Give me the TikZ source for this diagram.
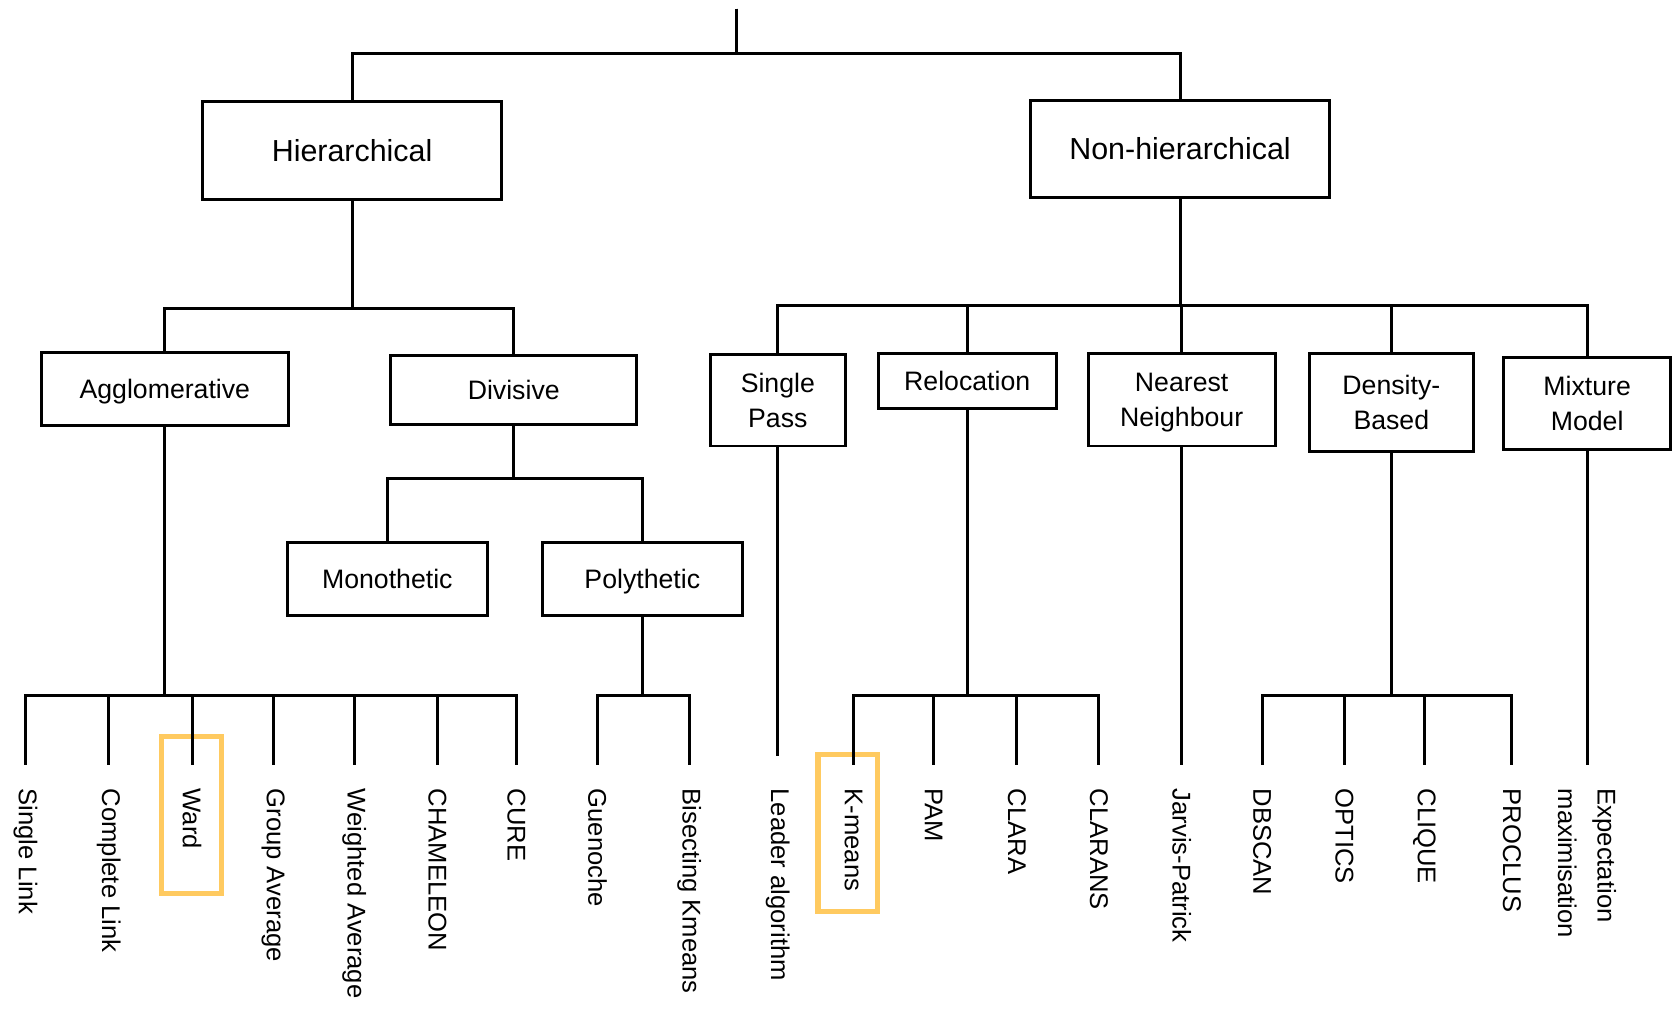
\documentclass[tikz,border=0pt]{standalone}
\usepackage{fontspec}
\setmainfont{Liberation Sans}
\usetikzlibrary{positioning}
\definecolor{hlOrange}{RGB}{255,202,96}
\tikzset{
  box/.style={draw, line width=2.8pt, align=center, inner sep=0pt, text depth=-3pt, font=\fontsize{25}{33}\selectfont},
  topbox/.style={box, minimum width=280pt, minimum height=92pt, font=\fontsize{28.5}{34}\selectfont},
  leaf/.style={rotate=-90, anchor=west, inner sep=0pt, align=left, font=\fontsize{24}{37}\selectfont},
  link/.style={line width=2.8pt},
  leafline/.style={link, shorten >=22pt},
  hlbox/.style={draw=hlOrange, line width=5pt, minimum width=56pt, minimum height=147pt}
}

\begin{document}
\begin{tikzpicture}[x=1pt,y=-1pt]
  \useasboundingbox (0,0) rectangle (1568,945);
  \coordinate (top) at (690,8);

  \node[topbox] (hier) at (330,141) {Hierarchical};
  \node[topbox, minimum height=91pt] (nonhier) at (1106,139.5) {Non-hierarchical};

  \node[box, minimum width=231pt, minimum height=69pt] (agg) at (154.5,364.5) {Agglomerative};
  \node[box, minimum width=231pt, minimum height=65pt] (div) at (481.5,365.5) {Divisive};
  \node[box, minimum width=188pt, minimum height=69pt] (mono) at (363,542.5) {Monothetic};
  \node[box, minimum width=188pt, minimum height=69pt] (poly) at (602,542.5) {Polythetic};

  \node[box, minimum width=126pt, minimum height=86pt] (spass) at (729,375) {Single\\Pass};
  \node[box, minimum width=167pt, minimum height=52pt] (reloc) at (906.5,357) {Relocation};
  \node[box, minimum width=175pt, minimum height=87pt] (nn) at (1107.5,374.5) {Nearest\\Neighbour};
  \node[box, minimum width=154pt, minimum height=92pt] (dens) at (1304,377) {Density-\\Based};
  \node[box, minimum width=157pt, minimum height=86pt] (mix) at (1487.5,378) {Mixture\\Model};

  \node[leaf] (slink) at (24,739) {Single Link};
  \node[leaf] (clink) at (102,739) {Complete Link};
  \node[leaf] (ward) at (180,739) {Ward};
  \node[leaf] (gavg) at (256,739) {Group Average};
  \node[leaf] (wavg) at (332,739) {Weighted Average};
  \node[leaf] (cham) at (410,739) {CHAMELEON};
  \node[leaf] (cure) at (484,739) {CURE};
  \node[leaf] (guen) at (560,739) {Guenoche};
  \node[leaf] (bisk) at (646,739) {Bisecting Kmeans};
  \node[leaf] (leader) at (729,739) {Leader algorithm};
  \node[leaf] (kmeans) at (800,739) {K-means};
  \node[leaf] (pam) at (875,739) {PAM};
  \node[leaf] (clara) at (953,739) {CLARA};
  \node[leaf] (clarans) at (1030,739) {CLARANS};
  \node[leaf] (jarvis) at (1107.5,739) {Jarvis-Patrick};
  \node[leaf] (dbscan) at (1183,739) {DBSCAN};
  \node[leaf] (optics) at (1260,739) {OPTICS};
  \node[leaf] (clique) at (1335,739) {CLIQUE};
  \node[leaf] (proclus) at (1417,739) {PROCLUS};
  \node[leaf] (em) at (1487.5,739) {Expectation\\maximisation};

  \node[hlbox] (wardhl) at (179.5,764) {};
  \node[hlbox] (kmeanshl) at (794.5,780.5) {};

  \draw[link] (top) -- ++(0,42) -| (hier.north);
  \draw[link] (top) -- ++(0,42) -| (nonhier.north);
  \draw[link] (hier.south) -- ++(0,101) -| (agg.north);
  \draw[link] (hier.south) -- ++(0,101) -| (div.north);
  \draw[link] (div.south) -- ++(0,49) -| (mono.north);
  \draw[link] (div.south) -- ++(0,49) -| (poly.north);

  \draw[leafline] (agg.south) -- ++(0,251) -| (slink.west);
  \draw[leafline] (agg.south) -- ++(0,251) -| (clink.west);
  \draw[leafline] (agg.south) -- ++(0,251) -| (ward.west);
  \draw[leafline] (agg.south) -- ++(0,251) -| (gavg.west);
  \draw[leafline] (agg.south) -- ++(0,251) -| (wavg.west);
  \draw[leafline] (agg.south) -- ++(0,251) -| (cham.west);
  \draw[leafline] (agg.south) -- ++(0,251) -| (cure.west);
  \draw[leafline] (poly.south) -- ++(0,73) -| (guen.west);
  \draw[leafline] (poly.south) -- ++(0,73) -| (bisk.west);

  \draw[link] (nonhier.south) -- ++(0,100) -| (spass.north);
  \draw[link] (nonhier.south) -- ++(0,100) -| (reloc.north);
  \draw[link] (nonhier.south) -- ++(0,100) -| (nn.north);
  \draw[link] (nonhier.south) -- ++(0,100) -| (dens.north);
  \draw[link] (nonhier.south) -- ++(0,100) -| (mix.north);

  \draw[leafline, shorten >=30pt] (spass.south) -- (leader.west);
  \draw[leafline] (reloc.south) -- ++(0,267) -| (kmeans.west);
  \draw[leafline] (reloc.south) -- ++(0,267) -| (pam.west);
  \draw[leafline] (reloc.south) -- ++(0,267) -| (clara.west);
  \draw[leafline] (reloc.south) -- ++(0,267) -| (clarans.west);
  \draw[leafline] (nn.south) -- (jarvis.west);
  \draw[leafline] (dens.south) -- ++(0,227) -| (dbscan.west);
  \draw[leafline] (dens.south) -- ++(0,227) -| (optics.west);
  \draw[leafline] (dens.south) -- ++(0,227) -| (clique.west);
  \draw[leafline] (dens.south) -- ++(0,227) -| (proclus.west);
  \draw[leafline] (mix.south) -- (em.west);
\end{tikzpicture}
\end{document}
